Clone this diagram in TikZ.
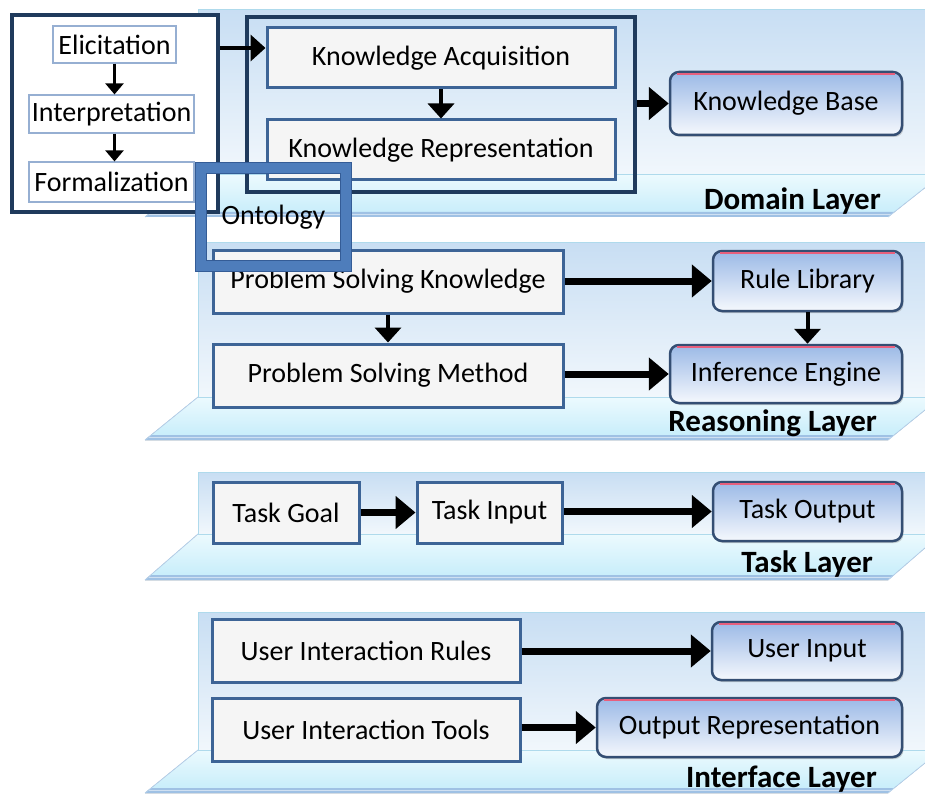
\documentclass[tikz,border=0pt]{standalone}
\usepackage{fontspec}
\setmainfont{Carlito}
\usetikzlibrary{arrows.meta,shadows}
\definecolor{navy}{RGB}{31,58,92}
\definecolor{boxblue}{RGB}{61,100,150}
\definecolor{boxfill}{RGB}{245,245,245}
\definecolor{thinblue}{RGB}{150,175,210}
\definecolor{ontoblue}{RGB}{78,125,187}
\definecolor{ontodark}{RGB}{52,92,150}
\definecolor{rtop}{RGB}{155,185,230}
\definecolor{rbot}{RGB}{245,248,253}
\definecolor{rborder}{RGB}{52,78,115}
\definecolor{rred}{RGB}{232,95,125}
\definecolor{paneltop}{RGB}{200,222,243}
\definecolor{panelbot}{RGB}{241,247,252}
\definecolor{panelline}{RGB}{175,218,236}
\definecolor{floortop}{RGB}{236,250,254}
\definecolor{floorbot}{RGB}{196,236,250}
\definecolor{flooredge}{RGB}{135,178,222}
\newcommand{\drawlayer}[3]{%
  \fill[top color=paneltop,bottom color=panelbot] (198,#1) rectangle (925,#2);
  \draw[panelline,line width=1pt] (925,#1) -- (198,#1) -- (198,#2);
  \fill[top color=floortop,bottom color=floorbot] (198,#2) -- (941,#2) -- (888,#3) -- (145,#3) -- cycle;
  \draw[panelline,line width=1pt] (198,#2) -- (941,#2);
  \fill[flooredge!80] (145,#3) -- (151,{#3-5}) -- (894,{#3-5}) -- (888,#3) -- cycle;
  \draw[white!60!flooredge,line width=1pt] (149,{#3-2.5}) -- (892,{#3-2.5});
  \draw[white!40!flooredge,line width=0.8pt] (145,#3) -- (198,#2);
  \draw[white!40!flooredge,line width=0.8pt] (888,#3) -- (941,#2);
}
% \boxat{style}{name}{x1}{y1}{x2}{y2}{text}
\newcommand{\boxat}[7]{%
  \node[#1, minimum width={#5pt-#3pt}, minimum height={#6pt-#4pt}]
    (#2) at ({(#3+#5)/2},{(#4+#6)/2}) {#7};}
\begin{document}
\begin{tikzpicture}[x=1pt,y=-1pt,
  txt/.style={font=\fontsize{28}{32}\selectfont},
  lab/.style={font=\fontsize{31}{34}\selectfont\bfseries, anchor=east, inner sep=0pt},
  gbox/.style={txt, draw=boxblue, line width=3pt, fill=boxfill, inner sep=0pt},
  wbox/.style={txt, draw=thinblue, line width=1.2pt, fill=white, inner sep=0pt},
  cont/.style={draw=navy, line width=3.5pt, inner sep=0pt},
  rbox/.style={txt, draw=rborder, line width=2.5pt, rounded corners=9pt, inner sep=0pt,
    top color=rtop, bottom color=rbot,
    drop shadow={opacity=0.35, shadow xshift=1.5pt, shadow yshift=-2pt}},
  hilite/.style={rred, line width=2pt},
  tarrow/.style={-{Triangle[length=11pt,width=18pt]}, line width=2.5pt},
  marrow/.style={-{Triangle[length=15pt,width=26pt]}, line width=4pt},
  barrow/.style={-{Triangle[length=20pt,width=32pt]}, line width=7pt}]
\useasboundingbox (0,0) rectangle (925,794);
\clip (0,0) rectangle (925,794);

% layers
\drawlayer{10}{175}{217}
\drawlayer{242}{397}{440}
\drawlayer{472}{534}{580}
\drawlayer{612}{750}{793}

\node[lab] (domlab) at (881,201) {Domain Layer};
\node[lab] (reslab) at (877,423) {Reasoning Layer};
\node[lab] (tasklab) at (873,564) {Task Layer};
\node[lab] (intlab) at (877,779) {Interface Layer};

% domain layer
\boxat{cont, fill=white}{lc}{12}{15}{218}{212}{}
\boxat{cont}{dc}{247}{17}{635}{192}{}
\boxat{wbox}{el}{53}{26}{176}{63}{Elicitation}
\boxat{wbox}{in}{29}{95}{194}{133}{Interpretation}
\boxat{wbox}{fo}{29}{162}{194}{202}{Formalization}
\draw[tarrow] (el.south) -- (el.south |- in.north);
\draw[tarrow] (el.south |- in.south) -- (el.south |- fo.north);

\boxat{gbox}{ka}{267}{28}{615}{88}{Knowledge Acquisition}
\boxat{gbox}{kr}{267}{120}{615}{180}{Knowledge Representation}
\draw[marrow] (ka.south) -- (kr.north);
\coordinate (a1) at (218,48);
\draw[marrow] (lc.east |- a1) -- (ka.west |- a1);

\boxat{rbox}{kb}{670}{72}{902}{135}{Knowledge Base}
\draw[barrow] (dc.east |- kb.west) -- (kb.west);

% reasoning layer
\boxat{gbox}{psk}{213}{250}{563}{313}{Problem Solving Knowledge}
\boxat{gbox}{psm}{213}{344}{563}{407}{Problem Solving Method}
\boxat{rbox}{rl}{713}{251}{902}{311}{Rule Library}
\boxat{rbox}{ie}{670}{345}{902}{403}{Inference Engine}
\draw[marrow] (psk.south) -- (psm.north);
\draw[barrow] (psk.east |- rl.west) -- (rl.west);
\draw[barrow] (psm.east |- ie.west) -- (ie.west);
\draw[marrow] (rl.south) -- (rl.south |- ie.north);

% task layer
\boxat{gbox}{tg}{213}{482}{359}{543}{Task Goal}
\boxat{gbox}{ti}{417}{482}{562}{543}{Task Input}
\boxat{rbox}{to}{713}{482}{902}{541}{Task Output}
\draw[barrow] (tg.east) -- (ti.west);
\draw[barrow] (ti.east |- to.west) -- (to.west);

% interface layer
\boxat{gbox}{uir}{212}{619}{520}{682}{User Interaction Rules}
\boxat{gbox}{uit}{212}{698}{520}{761}{User Interaction Tools}
\boxat{rbox}{ui}{712}{622}{902}{680}{User Input}
\boxat{rbox}{or}{597}{698}{902}{757}{Output Representation}
\draw[barrow] (uir.east |- ui.west) -- (ui.west);
\draw[barrow] (uit.east |- or.west) -- (or.west);

% pink highlights on rounded boxes
\foreach \n in {kb,rl,ie,to,ui,or}{
  \draw[hilite] ([xshift=8pt,yshift=-3.5pt]\n.north west) -- ([xshift=-8pt,yshift=-3.5pt]\n.north east);
}

% ontology frame
\boxat{txt, draw=ontodark, line width=1.2pt, double=ontoblue, double distance=10pt, inner sep=0pt}{ont}{201}{168}{346}{266}{Ontology}
\end{tikzpicture}
\end{document}
